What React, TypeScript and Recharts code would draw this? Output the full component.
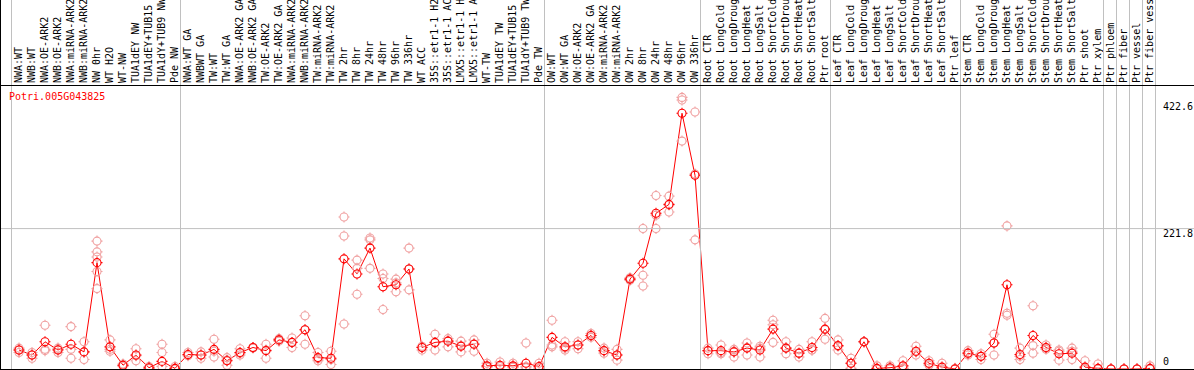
import React from 'react';
import { ComposedChart, Line, XAxis, YAxis } from 'recharts';

const categories = [
  'NWA:WT', 'NWB:WT', 'NWA:OE-ARK2', 'NWB:OE-ARK2', 'NWA:miRNA-ARK2', 'NWB:miRNA-ARK2', 'NW 0hr', 'WT H2O', 'WT-NW',
  'TUA1dEY NW', 'TUA1dEY+TUB15', 'TUA1dY+TUB9 NW', 'Pde NW',
  'NWA:WT GA', 'NWBWT GA', 'TW:WT', 'TW:WT GA', 'NWA:OE-ARK2 GA', 'NWB:OE-ARK2 GA', 'TW:OE-ARK2', 'TW:OE-ARK2 GA',
  'NWA:miRNA-ARK2', 'NWB:miRNA-ARK2', 'TW:miRNA-ARK2', 'TW:miRNA-ARK2', 'TW 2hr', 'TW 8hr', 'TW 24hr', 'TW 48hr',
  'TW 96hr', 'TW 336hr', 'WT ACC', '35S::etr1-1 H2', '35S::etr1-1 AC', 'LMX5::etr1-1 H', 'LMX5::etr1-1 A', 'WT-TW',
  'TUA1dEY TW', 'TUA1dEY+TUB15', 'TUA1dY+TUB9 TW', 'Pde TW',
  'OW:WT', 'OW:WT GA', 'OW:OE-ARK2', 'OW:OE-ARK2 GA', 'OW:miRNA-ARK2', 'OW:miRNA-ARK2', 'OW 2hr', 'OW 8hr',
  'OW 24hr', 'OW 48hr', 'OW 96hr', 'OW 336hr',
  'Root CTR', 'Root LongCold', 'Root LongDroug', 'Root LongHeat', 'Root LongSalt', 'Root ShortCold', 'Root ShortDrou',
  'Root ShortHeat', 'Root ShortSalt', 'Ptr root',
  'Leaf CTR', 'Leaf LongCold', 'Leaf LongDroug', 'Leaf LongHeat', 'Leaf LongSalt', 'Leaf ShortCold', 'Leaf ShortDrou',
  'Leaf ShortHeat', 'Leaf ShortSalt', 'Ptr leaf',
  'Stem CTR', 'Stem LongCold', 'Stem LongDroug', 'Stem LongHeat', 'Stem LongSalt', 'Stem ShortCold', 'Stem ShortDrou',
  'Stem ShortHeat', 'Stem ShortSalt', 'Ptr shoot', 'Ptr xylem',
  'Ptr phloem', 'Ptr fiber', 'Ptr vessel', 'Ptr fiber vess',
];

// first index of each sample group (a grey separator goes before it)
const groupStarts = [0, 13, 41, 53, 63, 73, 84, 85, 86, 87];

const meanValues = [
  30, 22, 43, 30, 39, 27, 168, 35, 6, 22, 2, 12, 1,
  23, 22, 31, 13, 26, 34, 29, 46, 42, 62, 18, 17, 174, 150, 191, 130, 133, 158, 34, 42, 44, 36, 39, 5, 6, 5, 9, 4,
  50, 35, 38, 53, 29, 22, 142, 167, 246, 260, 404, 306,
  29, 29, 27, 33, 30, 63, 33, 25, 34, 63,
  37, 9, 43, 1, 2, 5, 28, 9, 3, 0,
  25, 20, 41, 133, 23, 53, 34, 24, 25, 3, 1,
  0, 0, 0, 1,
];

const rep1 = [
  33, 26, 69, 33, 67, 43, 202, 46, 8, 32, 4, 39, 4,
  26, 27, 47, 18, 32, 34, 39, 48, 49, 84, 26, 28, 240, 172, 207, 150, 142, 191, 36, 55, 48, 44, 46, 9, 11, 9, 41, 9,
  77, 43, 43, 56, 33, 31, 142, 222, 274, 273, 429, 406,
  33, 38, 31, 41, 36, 77, 43, 31, 43, 80,
  46, 17, 43, 5, 5, 13, 36, 13, 9, 1,
  29, 24, 55, 226, 33, 100, 38, 30, 33, 13, 8,
  0, 0, 0, 5,
];

const rep2 = [
  26, 17, 29, 26, 31, 15, 185, 31, 5, 13, 1, 26, 0,
  22, 17, 19, 6, 22, 34, 17, 44, 34, 39, 13, 7, 210, 159, 204, 143, 136, 158, 30, 30, 35, 27, 28, 4, 4, 3, 4, 2,
  38, 30, 32, 53, 25, 14, 140, 148, 243, 259, 425, 308,
  24, 24, 19, 22, 19, 70, 24, 19, 30, 62,
  30, 1, 43, 0, 0, 1, 22, 6, 0, 0,
  25, 15, 22, 88, 15, 37, 31, 14, 15, 0, 0,
  0, 0, 0, 0,
];

const rep3 = [
  30, 22, 31, 31, 17, 27, 177, 28, 5, 21, 1, 4, 1,
  21, 22, 28, 14, 25, 33, 30, 46, 42, 62, 16, 15, 71, 118, 159, 94, 122, 125, 34, 41, 44, 37, 40, 3, 4, 3, 2, 1,
  35, 33, 38, 50, 29, 22, 144, 131, 222, 248, 360, 204,
  29, 26, 28, 34, 33, 42, 33, 25, 30, 47,
  36, 9, 43, 0, 1, 1, 27, 8, 0, 0,
  22, 20, 41, 85, 20, 25, 33, 28, 28, 0, 0,
  0, 0, 0, 0,
];

// only NW 0hr has extra replicates
const rep4 = categories.map((_, i) => (i === 6 ? 154 : null));
const rep5 = categories.map((_, i) => (i === 6 ? 127 : null));

const yTicks = [0, 221.8, 422.6];

const data = categories.map((name, i) => ({
  name,
  mean: meanValues[i],
  r1: rep1[i],
  r2: rep2[i],
  r3: rep3[i],
  r4: rep4[i],
  r5: rep5[i],
}));

const MONO = '"DejaVu Sans Mono", monospace';
const GRID = '#c0c0c0';
const RED = '#ff0000';
const PINK = '#f0a0a0';

function Marker({ cx, cy, color }: { cx?: number; cy?: number; color: string }) {
  if (cx == null || cy == null || Number.isNaN(cy)) return <g />;
  const r = 4;
  return (
    <g stroke={color} strokeWidth={1.1} fill="none">
      <circle cx={cx} cy={cy} r={r} />
      <line x1={cx} y1={cy - r} x2={cx} y2={cy - r - 1.5} />
      <line x1={cx} y1={cy + r} x2={cx} y2={cy + r + 1.5} />
      <line x1={cx - r} y1={cy} x2={cx - r - 1.5} y2={cy} />
      <line x1={cx + r} y1={cy} x2={cx + r + 1.5} y2={cy} />
    </g>
  );
}

function CategoryTick(props: any) {
  const { x, index, payload } = props;
  const bx = x + 3;
  const lines = [];
  if (groupStarts.includes(index)) lines.push(x - 7.5);
  if (index === categories.length - 1) lines.push(x + 5.5);
  return (
    <g>
      {lines.map((lx) => (
        <line key={lx} x1={lx} x2={lx} y1={0} y2={370} stroke={GRID} strokeWidth={1} />
      ))}
      <text
        x={bx}
        y={83}
        transform={`rotate(-90 ${bx} 83)`}
        fontFamily={MONO}
        fontSize={10}
        fill="#000"
        textAnchor="start"
      >
        {payload.value}
      </text>
    </g>
  );
}

function ValueTick(props: any) {
  const { y, payload } = props;
  const v = payload.value;
  const ty = v === 0 ? y - 4 : y + 8.5;
  return (
    <g>
      {v === 221.8 && <line x1={0} x2={1194} y1={y} y2={y} stroke={GRID} strokeWidth={1} />}
      <text x={1163} y={ty} fontFamily={MONO} fontSize={10} fill="#000">
        {v}
      </text>
    </g>
  );
}

export default function App() {
  const repKeys = ['r1', 'r2', 'r3', 'r4', 'r5'];
  return (
    <div style={{ position: 'absolute', left: 0, top: 0, width: 1194, height: 370, background: '#fff' }}>
      <ComposedChart width={1194} height={370} data={data} margin={{ top: 0, right: 0, bottom: 1, left: 12.5 }}>
        <XAxis
          dataKey="name"
          orientation="top"
          height={85}
          interval={0}
          padding={{ left: 6.5, right: 6.5 }}
          axisLine={false}
          tickLine={false}
          tick={<CategoryTick />}
        />
        <YAxis
          orientation="right"
          width={37.5}
          domain={[0, 448.6]}
          ticks={yTicks}
          interval={0}
          axisLine={false}
          tickLine={false}
          tick={<ValueTick />}
        />
        {repKeys.map((k) => (
          <Line
            key={k}
            dataKey={k}
            stroke="none"
            isAnimationActive={false}
            connectNulls={false}
            dot={(p: any) => <Marker key={`${k}-${p.index}`} cx={p.cx} cy={p.cy} color={PINK} />}
            activeDot={false}
          />
        ))}
        <Line
          dataKey="mean"
          stroke={RED}
          strokeWidth={1}
          isAnimationActive={false}
          dot={(p: any) => <Marker key={`m-${p.index}`} cx={p.cx} cy={p.cy} color={RED} />}
          activeDot={false}
        />
      </ComposedChart>
      <svg
        width={1194}
        height={370}
        style={{ position: 'absolute', left: 0, top: 0, pointerEvents: 'none' }}
      >
        <line x1={0.5} x2={0.5} y1={0} y2={370} stroke="#000" />
        <line x1={0} x2={1194} y1={85.5} y2={85.5} stroke="#000" />
        <line x1={0} x2={1194} y1={369.5} y2={369.5} stroke="#000" />
        <text x={9} y={100} fontFamily={MONO} fontSize={10} fill={RED}>
          Potri.005G043825
        </text>
      </svg>
    </div>
  );
}
